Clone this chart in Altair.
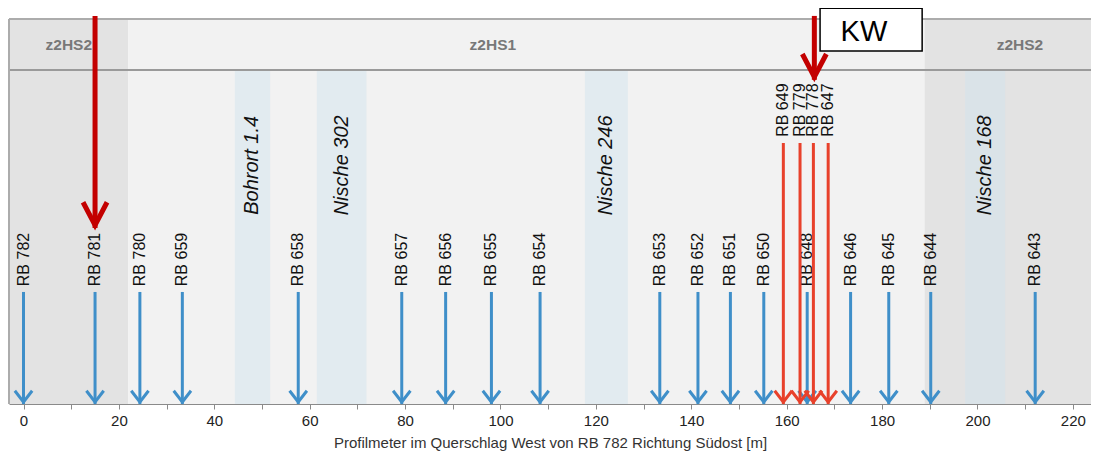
import altair as alt
import pandas as pd

# ---- data ----
x_min, x_max = -3.04, 223.8

blue_labels = ["RB 782", "RB 781", "RB 780", "RB 659", "RB 658", "RB 657", "RB 656",
               "RB 655", "RB 654", "RB 653", "RB 652", "RB 651", "RB 650", "RB 648",
               "RB 646", "RB 645", "RB 644", "RB 643"]
blue_pos = [0.0, 15.0, 24.4, 33.3, 57.6, 79.3, 88.5, 98.1, 108.3, 133.4, 141.4,
            148.2, 155.2, 164.3, 173.4, 181.4, 190.2, 212.1]

red_labels = ["RB 649", "RB 779", "RB 778", "RB 647"]
red_pos = [159.3, 162.8, 165.6, 168.7]

zone_names = ["z2HS2", "z2HS1", "z2HS2"]
zone_start = [x_min, 22.0, 188.9]
zone_end = [22.0, 188.9, x_max]
zone_label_x = [9.5, 98.4, 208.9]
zone_colors = ["#e3e3e3", "#f2f2f2", "#e3e3e3"]

niche_names = ["Bohrort 1.4", "Nische 302", "Nische 246", "Nische 168"]
niche_start = [44.3, 61.5, 117.7, 197.4]
niche_end = [51.7, 71.9, 126.7, 205.8]

kw_pos = [15.0, 165.8]
kw_tip = [45.7, 84.2]

# vertical layout in plot units (0 = bottom axis, 100 = top frame)
Y_TOP = 100.0
Y_HEAD = 86.75
Y_BLUE_TOP = 29.1
Y_BLUE_LAB = 30.6
Y_RED_TOP = 67.8
Y_RED_LAB = 69.4
Y_ZONE_LAB = 93.2
Y_NICHE_LAB = 62.0
Y_KW_START = 100.8

xscale = alt.Scale(domain=[x_min, x_max], nice=False, zero=False)
yscale = alt.Scale(domain=[0, 100], nice=False, zero=False)
FONT = "Liberation Sans"

xaxis = alt.Axis(values=list(range(0, 230, 10)),
                 labelExpr="datum.value % 20 == 0 ? datum.label : ''",
                 title="Profilmeter im Querschlag West von RB 782 Richtung Südost [m]",
                 grid=False, domainColor="#8a8a8a", tickColor="#8a8a8a",
                 tickSize=5, labelFontSize=15, labelColor="#222222",
                 labelFont=FONT, labelPadding=4, titleFont=FONT,
                 titleFontSize=15, titleFontWeight="normal",
                 titleColor="#333333", titlePadding=7)

zones = pd.DataFrame({"name": zone_names, "x0": zone_start, "x1": zone_end,
                      "lx": zone_label_x, "color": zone_colors,
                      "y0": 0.0, "y1": Y_TOP, "ly": Y_ZONE_LAB, "yh": Y_HEAD})
niches = pd.DataFrame({"name": niche_names, "x0": niche_start, "x1": niche_end,
                       "y0": 0.0, "y1": Y_HEAD, "ly": Y_NICHE_LAB})
niches["xc"] = (niches["x0"] + niches["x1"]) / 2
blue = pd.DataFrame({"label": blue_labels, "x": blue_pos, "y0": 0.0,
                     "y1": Y_BLUE_TOP, "ly": Y_BLUE_LAB})
red = pd.DataFrame({"label": red_labels, "x": red_pos, "y0": 0.0,
                    "y1": Y_RED_TOP, "ly": Y_RED_LAB})
kw = pd.DataFrame({"x": kw_pos, "y0": kw_tip, "y1": Y_KW_START})
kwbox = pd.DataFrame({"x0": [167.0], "x1": [188.4], "y0": [91.7], "y1": [102.8],
                      "xc": [176.2], "yc": [96.6], "t": ["KW"]})


def Xn(f):
    return alt.X(f, type="quantitative", scale=xscale, axis=xaxis)


def Yn(f):
    return alt.Y(f, type="quantitative", scale=yscale, axis=None)


zone_rects = alt.Chart(zones).mark_rect().encode(
    x=Xn("x0"), x2="x1:Q", y=Yn("y0"), y2="y1:Q",
    color=alt.Color("color:N", scale=None))

niche_rects = alt.Chart(niches).mark_rect(color="#cfe2ee", opacity=0.45).encode(
    x=Xn("x0"), x2="x1:Q", y=Yn("y0"), y2="y1:Q")

head_line = alt.Chart(zones).mark_rule(color="#9a9a9a", strokeWidth=2).encode(
    x=alt.value(0), x2=alt.value(1082), y=Yn("yh"))
frame_top = alt.Chart(zones).mark_rule(color="#ababab", strokeWidth=1.5).encode(
    x=alt.value(0), x2=alt.value(1082), y=alt.value(0))
frame_left = alt.Chart(zones).mark_rule(color="#ababab", strokeWidth=1.5).encode(
    x=alt.value(0), y=alt.value(0), y2=alt.value(385))

zone_text = alt.Chart(zones).mark_text(font=FONT, fontSize=15.5, fontWeight="bold",
                                       color="#787878").encode(
    x=Xn("lx"), y=Yn("ly"), text="name:N")

niche_text = alt.Chart(niches).mark_text(font=FONT, fontSize=20, fontStyle="italic",
                                         angle=270, align="center", baseline="middle",
                                         color="#111111").encode(
    x=Xn("xc"), y=Yn("ly"), text="name:N")

BLUE = "#3f8fc9"
RED = "#e8412b"
DRED = "#c30000"
chev_small = "M-1,-1.3L0,0L1,-1.3"
chev_big = "M-1,-1.9L0,0L1,-1.9"

blue_rules = alt.Chart(blue).mark_rule(color=BLUE, strokeWidth=3).encode(
    x=Xn("x"), y=Yn("y0"), y2="y1:Q")
blue_heads = alt.Chart(blue).mark_point(shape=chev_small, size=300, filled=False,
                                        color=BLUE, strokeWidth=3, opacity=1,
                                        yOffset=-2).encode(
    x=Xn("x"), y=Yn("y0"))
blue_text = alt.Chart(blue).mark_text(font=FONT, fontSize=16, angle=270, align="left",
                                      baseline="middle", color="#111111").encode(
    x=Xn("x"), y=Yn("ly"), text="label:N")

red_rules = alt.Chart(red).mark_rule(color=RED, strokeWidth=3).encode(
    x=Xn("x"), y=Yn("y0"), y2="y1:Q")
red_heads = alt.Chart(red).mark_point(shape=chev_small, size=300, filled=False,
                                      color=RED, strokeWidth=3, opacity=1,
                                      yOffset=-2).encode(
    x=Xn("x"), y=Yn("y0"))
red_text = alt.Chart(red).mark_text(font=FONT, fontSize=16, angle=270, align="left",
                                    baseline="middle", color="#111111").encode(
    x=Xn("x"), y=Yn("ly"), text="label:N")

kw_rules = alt.Chart(kw).mark_rule(color=DRED, strokeWidth=5).encode(
    x=Xn("x"), y=Yn("y0"), y2="y1:Q")
kw_heads = alt.Chart(kw).mark_point(shape=chev_big, size=576, filled=False,
                                    color=DRED, strokeWidth=5, opacity=1,
                                    yOffset=-3).encode(
    x=Xn("x"), y=Yn("y0"))

kw_rect = alt.Chart(kwbox).mark_rect(fill="white", stroke="black",
                                     strokeWidth=1.5).encode(
    x=Xn("x0"), x2="x1:Q", y=Yn("y0"), y2="y1:Q")
kw_text = alt.Chart(kwbox).mark_text(font=FONT, fontSize=29, color="black",
                                     baseline="middle").encode(
    x=Xn("xc"), y=Yn("yc"), text="t:N")

chart = alt.layer(
    zone_rects, niche_rects, head_line, frame_top, frame_left, zone_text,
    niche_text, blue_rules, blue_heads, blue_text, red_rules, red_heads, red_text,
    kw_rules, kw_heads, kw_rect, kw_text
).properties(
    width=1082, height=385,
    autosize=alt.AutoSizeParams(type="none"),
    padding={"left": 1, "top": 11, "right": 0, "bottom": 47},
    background="white"
).configure_view(stroke=None)

chart.save("out.html", embed_options={"renderer": "svg", "actions": False})
